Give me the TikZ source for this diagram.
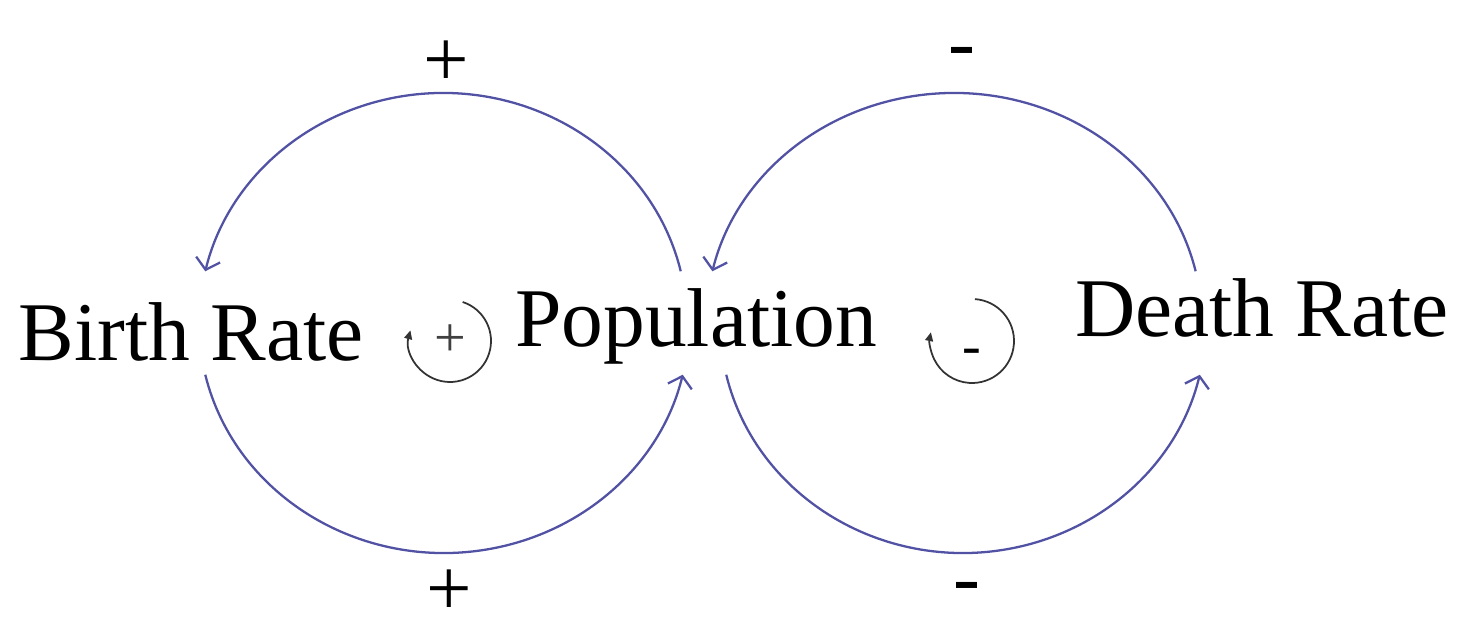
\documentclass[tikz,border=0pt]{standalone}
\usepackage{fontspec}
\setmainfont{Liberation Serif}
\usetikzlibrary{arrows.meta}
\definecolor{linkblue}{RGB}{82,82,165}
\begin{document}
\begin{tikzpicture}[x=0.02cm,y=0.02cm,
  lbl/.style={inner sep=0pt, font=\fontsize{47.5}{52}\selectfont},
  sign/.style={inner sep=0pt, font=\fontsize{46}{50}\selectfont},
  loopsign/.style={inner sep=0pt, font=\fontsize{32}{36}\selectfont, text=black!75},
  link/.style={draw=linkblue, line width=1.3pt, -{Straight Barb[length=6pt,width=14pt,line width=1.3pt]}},
  loopar/.style={draw=black!80, line width=1pt, -{Triangle[length=5pt,width=4.5pt]}}]
\useasboundingbox (0,0) rectangle (1460,-631);
% variables
\node[lbl, anchor=base west] (br)  at (18,-360)   {Birth Rate};
\node[lbl, anchor=base west] (pop) at (515,-347)  {Population};
\node[lbl, anchor=base west] (dr)  at (1075,-337) {Death Rate};
% ellipse centres of the causal links
\coordinate (cTL) at (443,-323);
\coordinate (cBL) at (444,-323);
\coordinate (cTR) at (954,-323);
\coordinate (cBR) at (963,-323);
% links
\draw[link] ([shift={(13:244 and 230)}]cTL) arc[start angle=13, end angle=167, x radius=244, y radius=230];
\draw[link] ([shift={(193:245 and 230)}]cBL) arc[start angle=193, end angle=347, x radius=245, y radius=230];
\draw[link] ([shift={(13:248 and 230)}]cTR) arc[start angle=13, end angle=167, x radius=248, y radius=230];
\draw[link] ([shift={(193:243 and 230)}]cBR) arc[start angle=193, end angle=347, x radius=243, y radius=230];
% polarity labels
\node[sign] (pt) at (446,-64) {+};
\node[sign] (mt) at (962,-58) {-};
\node[sign] (pb) at (449,-593) {+};
\node[sign] (mb) at (967,-593) {-};
% loop markers
\coordinate (lL) at (450,-341);
\coordinate (lR) at (972,-341);
\draw[loopar] ([shift={(72:41)}]lL) arc[start angle=72, end angle=-195, radius=41];
\draw[loopar] ([shift={(86:42)}]lR) arc[start angle=86, end angle=-192, radius=42];
\node[loopsign] (sL) at (lL) {+};
\node[loopsign, text=black] (sR) at ([yshift=-9]lR) {-};
\end{tikzpicture}
\end{document}
